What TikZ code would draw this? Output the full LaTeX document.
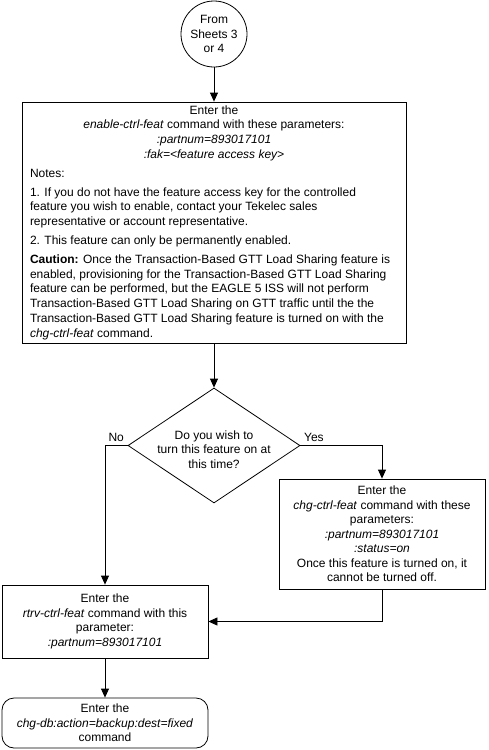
\documentclass[tikz,border=0pt]{standalone}
\usepackage{fontspec}
\setmainfont{Liberation Sans}
\usetikzlibrary{arrows.meta,shapes.geometric}

\newcommand{\notewidth}{368pt}
\newcommand{\headline}[1]{\makebox[\notewidth]{#1}}

\begin{document}
\begin{tikzpicture}[x=1pt,y=-1pt,->,>={Triangle[length=9pt,width=8pt]},line width=0.8pt,
    font=\fontsize{12}{14.5}\selectfont]

    \tikzstyle{connector}=[draw,circle,minimum size=66pt,inner sep=0pt,align=center]
    \tikzstyle{process}=[draw,rectangle,inner sep=2pt,align=center]
    \tikzstyle{decision}=[draw,diamond,minimum width=172pt,minimum height=115pt,inner sep=0pt]
    \tikzstyle{terminal}=[process,rounded corners=12pt]

    \path[use as bounding box,fill=white,-] (0,0) rectangle (488,750);

    \node[connector] (start)  at (214,34)    {From\\Sheets 3\\or 4};
    \node[process,minimum width=384pt,minimum height=241pt,align=left,
          font=\fontsize{12}{14.8}\selectfont] (enable) at (214,222.5) {%
        \headline{Enter the}\\
        \headline{\textit{enable-ctrl-feat} command with these parameters:}\\
        \headline{\textit{:partnum=893017101}}\\
        \headline{\textit{:fak=<feature access key>}}\\[4pt]
        Notes:\\[4pt]
        1. If you do not have the feature access key for the controlled\\
        feature you wish to enable, contact your Tekelec sales\\
        representative or account representative.\\[4pt]
        2. This feature can only be permanently enabled.\\[4pt]
        \textbf{Caution:} Once the Transaction-Based GTT Load Sharing feature is\\
        enabled, provisioning for the Transaction-Based GTT Load Sharing\\
        feature can be performed, but the EAGLE 5 ISS will not perform\\
        Transaction-Based GTT Load Sharing on GTT traffic until the the\\
        Transaction-Based GTT Load Sharing feature is turned on with the\\
        \textit{chg-ctrl-feat} command.};
    \node[decision,label={[align=center,yshift=-4pt]center:{Do you wish to\\turn this feature on at\\this time?}}]
                      (decide) at (214,445.5) {};
    \node[process,minimum width=206pt,minimum height=110pt] (chg) at (382,534) {%
        Enter the\\
        \textit{chg-ctrl-feat} command with these\\
        parameters:\\
        \textit{:partnum=893017101}\\
        \textit{:status=on}\\
        Once this feature is turned on, it\\
        cannot be turned off.};
    \node[process,minimum width=206pt,minimum height=73pt] (rtrv) at (105,621.5) {%
        Enter the\\
        \textit{rtrv-ctrl-feat} command with this\\
        parameter:\\
        \textit{:partnum=893017101}};
    \node[terminal,minimum width=206pt,minimum height=50pt] (backup) at (105,723) {%
        Enter the\\
        \textit{chg-db:action=backup:dest=fixed}\\
        command};

    \path (start)  edge (enable)
          (enable) edge (decide)
          (rtrv)   edge (backup)
    ;
    \draw (decide.west) -| node[pos=0,above left] {No} (rtrv.north);
    \draw (decide.east) -| node[pos=0,above right] {Yes} (chg.north);
    \draw (chg.south) |- (rtrv.east);
\end{tikzpicture}
\end{document}
